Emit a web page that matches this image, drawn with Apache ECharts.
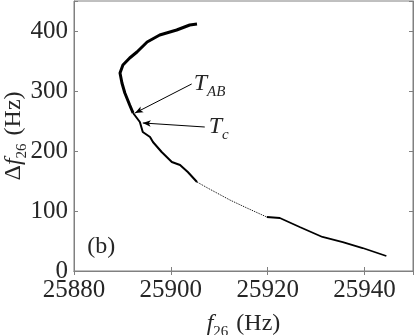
<!DOCTYPE html>
<html>
<head>
<meta charset="utf-8">
<script src="https://cdn.jsdelivr.net/npm/echarts@6/dist/echarts.min.js"></script>
<style>
  html, body { margin: 0; padding: 0; background: #fff; }
  #chart { width: 415px; height: 335px; }
</style>
</head>
<body>
<div id="chart"></div>
<script>
// traced curve, f26 (Hz) vs delta f26 (Hz)
var freq = [25905.4, 25903.9, 25901.2, 25897.7, 25895.1, 25893.0, 25891.5, 25890.1,
  25889.5, 25889.9, 25890.5, 25891.5, 25892.2, 25893.6, 25894.2, 25895.7, 25896.3,
  25898.1, 25900.2, 25901.9, 25903.5, 25905.4, 25907.6, 25912.2, 25915.7, 25919.8,
  25922.5, 25926.6, 25931.3, 25935.5, 25939.6, 25944.5];
var dfreq = [411.7, 410, 401.7, 393.3, 381.7, 365, 355, 343.3,
  330, 313.3, 296.7, 276.7, 263.3, 248.3, 231.7, 223.3, 215,
  198.3, 181.7, 176.7, 165, 148.3, 138.3, 118.3, 105, 90,
  88.3, 73.3, 56.7, 48.3, 38.3, 25];

var xTicks = [25880, 25900, 25920, 25940];
var yTicks = [0, 100, 200, 300, 400];

// annotation points: [arrow start (label side), arrow tip]
var tabArrow = [[25904.3, 311.7], [25892.6, 263.3]];
var tcArrow = [[25907.0, 240.0], [25894.2, 246.7]];
var panelPos = [25882.3, 40];

// where line thickness changes
var cuts = [0, 12, 21, 25, freq.length - 1];
var widths = [3, 2, 1, 1.8];
var types = ['solid', 'solid', 'dotted', 'solid'];

var pts = freq.map(function (f, i) { return [f, dfreq[i]]; });

var serif = 'Liberation Serif';
var axisGray = '#808080';
var txt = '#262626';

var subRich = {
  it: { fontFamily: serif, fontStyle: 'italic', fontSize: 24, color: txt, lineHeight: 32 },
  rm: { fontFamily: serif, fontSize: 24, color: txt, lineHeight: 32 },
  sp: { fontFamily: serif, fontSize: 24, color: txt, lineHeight: 32, width: 8 },
  sub: { fontFamily: serif, fontSize: 15, color: txt, lineHeight: 14, verticalAlign: 'bottom' },
  subi: { fontFamily: serif, fontStyle: 'italic', fontSize: 15, color: txt, lineHeight: 14, verticalAlign: 'bottom' }
};

var series = [];
for (var k = 0; k < widths.length; k++) {
  series.push({
    type: 'line',
    data: pts.slice(cuts[k], cuts[k + 1] + 1),
    showSymbol: false,
    symbol: 'none',
    smooth: false,
    lineStyle: { color: '#000', width: widths[k], type: types[k] },
    silent: true,
    z: 3
  });
}

function arrowLine(a) {
  return [{ coord: a[0] }, { coord: a[1] }];
}

series[0].markLine = {
  silent: true,
  symbol: ['none', 'arrow'],
  symbolSize: [5, 8],
  lineStyle: { color: '#000', width: 1, type: 'solid' },
  label: { show: false },
  data: [arrowLine(tabArrow), arrowLine(tcArrow)]
};

series[0].markPoint = {
  silent: true,
  symbol: 'circle',
  symbolSize: 0,
  label: {
    show: true,
    position: 'right',
    distance: 2,
    rich: subRich
  },
  data: [
    { coord: tabArrow[0], label: { formatter: '{it|T}{subi|AB}' } },
    { coord: tcArrow[0], label: { formatter: '{it|T}{subi|c}', distance: 4 } },
    { coord: panelPos, label: { formatter: '{rm|(b)}' } }
  ]
};

var option = {
  backgroundColor: '#ffffff',
  animation: false,
  grid: {
    left: 74, right: 2, top: 1, bottom: 64,
    outerBoundsMode: 'none',
    containLabel: false,
    show: true, borderColor: axisGray, borderWidth: 1
  },
  xAxis: [
    {
      type: 'value', min: 25880, max: 25950, interval: 20,
      name: '{it|f}{sub|26}{sp| }{rm|(Hz)}',
      nameLocation: 'middle', nameGap: 37, nameMoveOverlap: false,
      nameTextStyle: { rich: subRich },
      axisLine: { show: true, lineStyle: { color: axisGray } },
      axisTick: { show: true, inside: true, length: 4, lineStyle: { color: axisGray } },
      splitLine: { show: false },
      axisLabel: {
        fontFamily: serif, fontSize: 25, color: txt, margin: 7,
        formatter: function (v) { return xTicks.indexOf(v) >= 0 ? String(v) : ''; }
      }
    },
    {
      type: 'value', position: 'top', min: 25880, max: 25950, interval: 20,
      axisLine: { show: true, lineStyle: { color: axisGray } },
      axisTick: { show: true, inside: true, length: 4, lineStyle: { color: axisGray } },
      axisLabel: { show: false }, splitLine: { show: false }
    }
  ],
  yAxis: [
    {
      type: 'value', min: 0, max: 450, interval: 100,
      name: '{rm|Δ}{it|f}{sub|26}{sp| }{rm|(Hz)}',
      nameLocation: 'middle', nameGap: 44, nameMoveOverlap: false,
      nameTextStyle: { rich: subRich },
      axisLine: { show: true, lineStyle: { color: axisGray } },
      axisTick: { show: true, inside: true, length: 4, lineStyle: { color: axisGray } },
      splitLine: { show: false },
      axisLabel: {
        fontFamily: serif, fontSize: 25, color: txt, margin: 6,
        formatter: function (v) { return yTicks.indexOf(v) >= 0 ? String(v) : ''; }
      }
    },
    {
      type: 'value', position: 'right', min: 0, max: 450, interval: 100,
      axisLine: { show: true, lineStyle: { color: axisGray } },
      axisTick: { show: true, inside: true, length: 4, lineStyle: { color: axisGray } },
      axisLabel: { show: false }, splitLine: { show: false }
    }
  ],
  series: series
};

var chart = echarts.init(document.getElementById('chart'), null, { renderer: 'canvas' });
chart.setOption(option);
</script>
</body>
</html>
